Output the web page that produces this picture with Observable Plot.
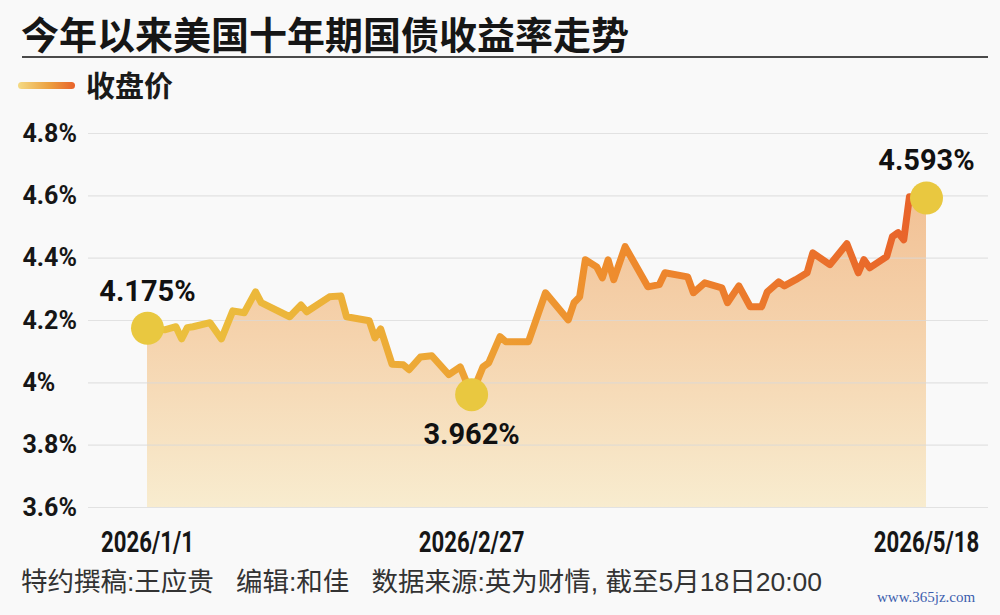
<!DOCTYPE html>
<html>
<head>
<meta charset="utf-8">
<script src="https://cdn.jsdelivr.net/npm/d3@7"></script>
<script src="https://cdn.jsdelivr.net/npm/@observablehq/plot@0.6"></script>
<style>
  html, body { margin: 0; padding: 0; background: #f9f9f9; }
  #wrap { position: relative; width: 1000px; height: 615px; overflow: hidden; background: #f9f9f9;
          font-family: "Liberation Sans", "Noto Sans CJK SC", sans-serif; color: #1a1a1a; }
  #title { position: absolute; left: 21px; top: 14px; font-size: 38px; line-height: 38px; font-weight: bold;
           font-family: "Noto Sans CJK SC", sans-serif; color: #161616; white-space: nowrap; }
  #rule { position: absolute; left: 22px; top: 56px; width: 966px; height: 2px; background: #4a4a4a; }
  #legline { position: absolute; left: 18px; top: 82px; width: 57px; height: 7px; border-radius: 4px;
             background: linear-gradient(to right, #f4da84, #eca040 55%, #e8622a); }
  #legtext { position: absolute; left: 86px; top: 70px; font-size: 29px; line-height: 29px; font-weight: bold;
             font-family: "Noto Sans CJK SC", sans-serif; color: #1a1a1a; white-space: nowrap; }
  #chart { position: absolute; left: 0; top: 110px; }
  #caption { position: absolute; left: 21px; top: 569px; font-size: 26.5px; line-height: 26.5px;
             font-family: "Liberation Sans", "Noto Sans CJK SC", sans-serif; color: #333; white-space: pre; }
  #mark { position: absolute; left: 877px; top: 590px; font-size: 15px; line-height: 15px;
          font-family: "Liberation Serif", serif; color: #3d5fae; white-space: nowrap; }
</style>
</head>
<body>
<div id="wrap">
  <div id="title">今年以来美国十年期国债收益率走势</div>
  <div id="rule"></div>
  <div id="legline"></div>
  <div id="legtext">收盘价</div>
  <div id="chart"></div>
  <div id="caption">特约撰稿:王应贵   编辑:和佳   数据来源:英为财情, 截至5月18日20:00</div>
  <div id="mark">www.365jz.com</div>
</div>
<script>
// ---- data ----
const dates = [
  "2026-01-01","2026-01-04","2026-01-06","2026-01-07","2026-01-08","2026-01-09","2026-01-12","2026-01-14",
  "2026-01-16","2026-01-18","2026-01-20","2026-01-21","2026-01-26","2026-01-28","2026-01-29","2026-02-02",
  "2026-02-04","2026-02-05","2026-02-09","2026-02-10","2026-02-11","2026-02-13","2026-02-15","2026-02-16",
  "2026-02-18","2026-02-20","2026-02-23","2026-02-25","2026-02-27","2026-03-01","2026-03-02","2026-03-04",
  "2026-03-05","2026-03-09","2026-03-12","2026-03-16","2026-03-17","2026-03-18","2026-03-19","2026-03-21",
  "2026-03-22","2026-03-23","2026-03-24","2026-03-26","2026-03-30","2026-04-01","2026-04-02","2026-04-06",
  "2026-04-07","2026-04-09","2026-04-12","2026-04-13","2026-04-15","2026-04-17","2026-04-19","2026-04-20",
  "2026-04-22","2026-04-23","2026-04-25","2026-04-27","2026-04-28","2026-05-01","2026-05-04","2026-05-06",
  "2026-05-07","2026-05-08","2026-05-11","2026-05-12","2026-05-13","2026-05-14","2026-05-15","2026-05-18"
];
const yields = [
  4.175,4.170,4.180,4.141,4.177,4.180,4.193,4.141,
  4.231,4.225,4.292,4.257,4.212,4.250,4.228,4.276,
  4.279,4.212,4.199,4.144,4.173,4.060,4.058,4.042,
  4.083,4.087,4.026,4.051,3.962,4.051,4.064,4.148,
  4.132,4.132,4.289,4.202,4.257,4.276,4.395,4.372,
  4.337,4.395,4.331,4.437,4.308,4.315,4.353,4.340,
  4.289,4.321,4.305,4.257,4.311,4.244,4.244,4.292,
  4.324,4.311,4.331,4.353,4.417,4.379,4.446,4.353,
  4.395,4.369,4.405,4.469,4.482,4.459,4.597,4.593
];
const keyDates = ["2026-01-01","2026-02-27","2026-05-18"];
const keyValues = [4.175, 3.962, 4.593];
const keyLabels = ["4.175%","3.962%","4.593%"];
const yTicks = [3.6, 3.8, 4.0, 4.2, 4.4, 4.6, 4.8];
const yTickLabels = ["3.6%","3.8%","4%","4.2%","4.4%","4.6%","4.8%"];
const xTickDates = ["2026-01-01","2026-02-27","2026-05-18"];
const xTickLabels = ["2026/1/1","2026/2/27","2026/5/18"];

// ---- tables built from the arrays ----
const data = dates.map((d, i) => ({date: new Date(d), v: yields[i]}));
const keys = keyDates.map((d, i) => ({date: new Date(d), v: keyValues[i], label: keyLabels[i]}));
const yt = yTicks.map((v, i) => ({v, label: yTickLabels[i]}));
const xt = xTickDates.map((d, i) => ({date: new Date(d), label: xTickLabels[i]}));
const x0 = new Date(dates[0]);
const yMin = yTicks[0];

const numFont = 'Roboto, "Liberation Sans", sans-serif';

const chart = Plot.plot({
  width: 1000,
  height: 455,
  marginLeft: 147,
  marginRight: 74,
  marginTop: 23,
  marginBottom: 58,
  style: {background: "transparent", fontFamily: numFont, overflow: "visible"},
  x: {type: "utc", domain: [x0, new Date(dates[dates.length - 1])], axis: null},
  y: {domain: [yMin, yTicks[yTicks.length - 1]], axis: null},
  marks: [
    Plot.areaY(data, {x: "date", y1: yMin, y2: "v", fill: "url(#areaGrad)"}),
    Plot.ruleY(yt, {y: "v", stroke: "#d9d9d9", strokeOpacity: 0.7, strokeWidth: 1.2, insetLeft: -59, insetRight: -62}),
    Plot.line(data, {x: "date", y: "v", stroke: "url(#lineGrad)", strokeWidth: 7,
                     strokeLinejoin: "round", strokeLinecap: "round"}),
    Plot.dot(keys, {x: "date", y: "v", r: 16.5, fill: "#e9c840", stroke: "none"}),
    Plot.text(keys, {filter: (d, i) => i !== 1, x: "date", y: "v", text: "label", dy: -37,
                     fontSize: 29, fontWeight: "bold", fill: "#111"}),
    Plot.text(keys, {filter: (d, i) => i === 1, x: "date", y: "v", text: "label", dy: 40,
                     fontSize: 29, fontWeight: "bold", fill: "#111"}),
    Plot.text(yt, {x: () => x0, y: "v", text: "label", textAnchor: "start", dx: -125,
                   fontSize: 25, fontWeight: "bold", fill: "#161616"}),
    Plot.text(xt, {x: "date", y: () => yMin, text: "label", dy: 35, className: "xlab",
                   fontSize: 30, fontWeight: "bold", fill: "#161616"})
  ]
});

// gradients
const svg = d3.select(chart);
const defs = svg.insert("defs", ":first-child");
const lg = defs.append("linearGradient").attr("id", "lineGrad")
  .attr("x1", 0).attr("x2", 1).attr("y1", 0).attr("y2", 0);
[["0%", "#ebc23e"], ["35%", "#eda936"], ["60%", "#ee8c2d"], ["100%", "#e8622a"]]
  .forEach(([o, c]) => lg.append("stop").attr("offset", o).attr("stop-color", c));
const ag = defs.append("linearGradient").attr("id", "areaGrad")
  .attr("x1", 0).attr("x2", 0).attr("y1", 0).attr("y2", 1);
[["0%", "#f2c195"], ["45%", "#f5d3ad"], ["100%", "#f8eccf"]]
  .forEach(([o, c]) => ag.append("stop").attr("offset", o).attr("stop-color", c));

document.getElementById("chart").appendChild(chart);

// condensed look for the date labels: squeeze each label horizontally about its own anchor
svg.selectAll("g.xlab text").each(function() {
  const t = this.getAttribute("transform") || "";
  this.setAttribute("transform", t + " scale(0.74,1)");
});
</script>
</body>
</html>
